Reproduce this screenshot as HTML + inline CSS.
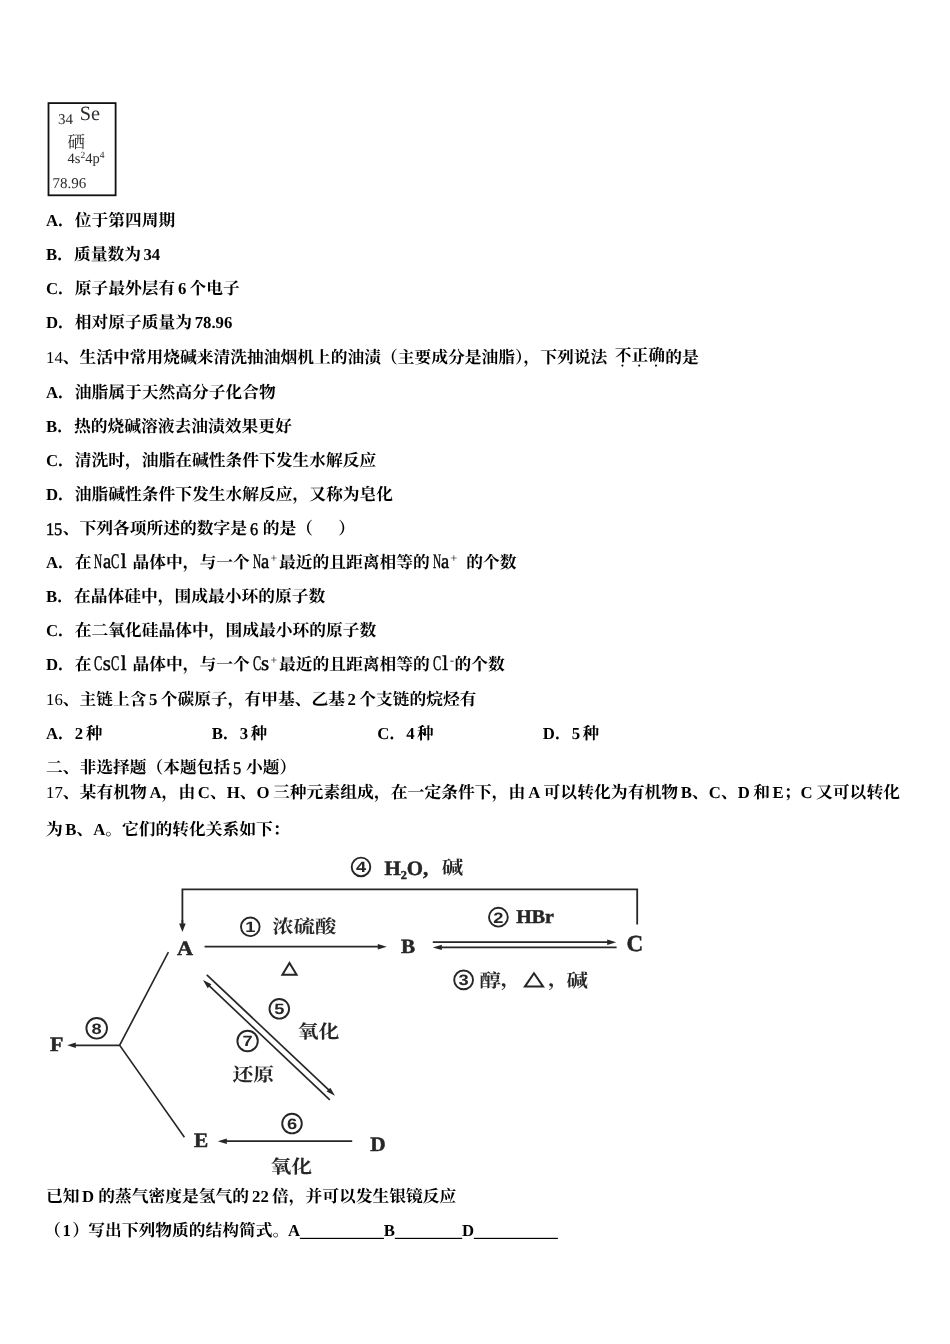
<!DOCTYPE html>
<html lang="zh-CN"><head><meta charset="utf-8"><title>化学试题</title><style>
html,body{margin:0;padding:0;background:#fff}
body{width:950px;height:1344px;position:relative;overflow:hidden;font-family:"Liberation Serif",serif;color:#000;font-kerning:none;text-rendering:geometricPrecision}
.ln{will-change:transform;position:absolute;left:45.70px;height:22px;line-height:22px;font-size:16.757px;white-space:nowrap;width:900px}
.ln span{position:absolute;top:0;white-space:pre}
.b{font-weight:bold}
.r{font-weight:normal}
.m{font-weight:normal;-webkit-text-stroke:0.45px #000;transform-origin:0 0}
.c{height:22px;font-family:"Liberation Serif","Noto Serif CJK SC",serif;font-weight:bold}
.g{position:absolute;left:0;top:-1.78px;overflow:visible;fill:#000;stroke:#000;stroke-width:28;stroke-linejoin:round}
.p{position:absolute;left:0;top:0;overflow:visible}
.sr{position:absolute;left:0;top:0;width:1px;height:1px;overflow:hidden;clip-path:inset(50%);font-size:1px;color:transparent}
.fig{position:absolute;overflow:visible}
</style></head><body>
<svg class="fig" style="left:0;top:0;filter:blur(0.3px)" width="950" height="210" viewBox="0 0 950 210" font-family="'Liberation Serif',serif" fill="#2a2a30" role="img" aria-label="34 Se 硒 4s2 4p4 78.96"><rect x="48.5" y="103.1" width="67.1" height="92.2" fill="none" stroke="#111" stroke-width="1.8"/><text x="57.9" y="123.8" font-size="15">34</text><text x="79.8" y="120.3" font-size="20.3">Se</text><text x="67.6" y="148.3" font-size="17.4" font-family="'Liberation Serif','Noto Serif CJK SC',serif">硒</text><text x="67.6" y="163.3" font-size="14.5">4s<tspan dy="-5.2" font-size="9.5">2</tspan><tspan dy="5.2">4p</tspan><tspan dy="-5.2" font-size="9.5">4</tspan></text><text x="52.4" y="187.9" font-size="15">78.96</text></svg>
<div class="ln" style="top:209.64px"><span class="b" style="left:0.00px">A</span><span class="c" style="left:12.10px;width:117.30px">．位于第四周期</span></div>
<div class="ln" style="top:243.74px"><span class="b" style="left:0.00px">B</span><span class="c" style="left:11.18px;width:83.79px">．质量数为</span><span class="b" style="left:97.46px">34</span></div>
<div class="ln" style="top:277.94px"><span class="b" style="left:0.00px">C</span><span class="c" style="left:12.10px;width:117.30px">．原子最外层有</span><span class="b" style="left:131.90px">6</span><span class="c" style="left:143.58px;width:50.27px">个电子</span></div>
<div class="ln" style="top:312.14px"><span class="b" style="left:0.00px">D</span><span class="c" style="left:12.10px;width:134.06px">．相对原子质量为</span><span class="b" style="left:148.66px">78.96</span></div>
<div class="ln" style="top:347.04px"><span class="r" style="left:0.00px">14</span><span class="c" style="left:16.76px;width:552.98px">、生活中常用烧碱来清洗抽油烟机上的油渍（主要成分是油脂），下列说法</span><span class="c" style="left:568.74px;top:-2.3px;width:50.27px">不正确</span><span class="c" style="left:568.74px;width:50.27px"><svg class="g" width="50.27" height="30" viewBox="0 -1100 3000 1790.3"><circle cx="445" cy="130" r="62" stroke="none"/><circle cx="1445" cy="130" r="62" stroke="none"/><circle cx="2445" cy="130" r="62" stroke="none"/></svg></span><span class="c" style="left:619.31px;width:33.51px">的是</span></div>
<div class="ln" style="top:381.84px"><span class="b" style="left:0.00px">A</span><span class="c" style="left:12.10px;width:217.84px">．油脂属于天然高分子化合物</span></div>
<div class="ln" style="top:415.94px"><span class="b" style="left:0.00px">B</span><span class="c" style="left:11.18px;width:234.60px">．热的烧碱溶液去油渍效果更好</span></div>
<div class="ln" style="top:450.04px"><span class="b" style="left:0.00px">C</span><span class="c" style="left:12.10px;width:318.38px">．清洗时，油脂在碱性条件下发生水解反应</span></div>
<div class="ln" style="top:484.14px"><span class="b" style="left:0.00px">D</span><span class="c" style="left:12.10px;width:335.14px">．油脂碱性条件下发生水解反应，又称为皂化</span></div>
<div class="ln" style="top:518.24px"><span class="m" style="left:0.10px;top:-0.35px;font-size:17.8px;transform:scaleX(0.919)">1</span><span class="m" style="left:8.48px;top:-0.35px;font-size:17.8px;transform:scaleX(0.919)">5</span><span class="c" style="left:16.76px;width:184.33px">、下列各项所述的数字是</span><span class="m" style="left:203.88px;top:-0.35px;font-size:17.8px;transform:scaleX(0.919)">6</span><span class="c" style="left:216.86px;width:50.27px">的是（</span><span class="c" style="left:292.23px;width:16.76px">）</span></div>
<div class="ln" style="top:552.14px"><span class="b" style="left:0.00px">A</span><span class="c" style="left:12.10px;width:33.51px">．在</span><span class="m" style="left:48.42px;top:-1.36px;font-size:20.8px;transform:scaleX(0.544)">N</span><span class="m" style="left:56.79px;top:-1.36px;font-size:20.8px;transform:scaleX(0.886)">a</span><span class="m" style="left:65.17px;top:-1.36px;font-size:20.8px;transform:scaleX(0.590)">C</span><span class="m" style="left:74.75px;top:-1.36px;font-size:20.8px;transform:scaleX(1.000)">l</span><span class="c" style="left:86.53px;width:117.30px">晶体中，与一个</span><span class="m" style="left:206.63px;top:-1.36px;font-size:20.8px;transform:scaleX(0.544)">N</span><span class="m" style="left:215.01px;top:-1.36px;font-size:20.8px;transform:scaleX(0.886)">a</span><span class="c" style="left:224.5px;top:-5px;width:9.70px;font-size:12px;font-weight:normal">+</span><span class="c" style="left:232.99px;width:150.81px">最近的且距离相等的</span><span class="m" style="left:386.60px;top:-1.36px;font-size:20.8px;transform:scaleX(0.544)">N</span><span class="m" style="left:394.98px;top:-1.36px;font-size:20.8px;transform:scaleX(0.886)">a</span><span class="c" style="left:404.5px;top:-5px;width:9.70px;font-size:12px;font-weight:normal">+</span><span class="c" style="left:420.36px;width:50.27px">的个数</span></div>
<div class="ln" style="top:585.94px"><span class="b" style="left:0.00px">B</span><span class="c" style="left:11.18px;width:268.11px">．在晶体硅中，围成最小环的原子数</span></div>
<div class="ln" style="top:620.04px"><span class="b" style="left:0.00px">C</span><span class="c" style="left:12.10px;width:318.38px">．在二氧化硅晶体中，围成最小环的原子数</span></div>
<div class="ln" style="top:654.24px"><span class="b" style="left:0.00px">D</span><span class="c" style="left:12.10px;width:33.51px">．在</span><span class="m" style="left:48.42px;top:-1.36px;font-size:20.8px;transform:scaleX(0.590)">C</span><span class="m" style="left:56.84px;top:-1.36px;font-size:20.8px;transform:scaleX(1.000)">s</span><span class="m" style="left:65.17px;top:-1.36px;font-size:20.8px;transform:scaleX(0.590)">C</span><span class="m" style="left:74.75px;top:-1.36px;font-size:20.8px;transform:scaleX(1.000)">l</span><span class="c" style="left:86.53px;width:117.30px">晶体中，与一个</span><span class="m" style="left:206.63px;top:-1.36px;font-size:20.8px;transform:scaleX(0.590)">C</span><span class="m" style="left:215.05px;top:-1.36px;font-size:20.8px;transform:scaleX(1.000)">s</span><span class="c" style="left:224.5px;top:-5px;width:9.70px;font-size:12px;font-weight:normal">+</span><span class="c" style="left:232.99px;width:150.81px">最近的且距离相等的</span><span class="m" style="left:386.60px;top:-1.36px;font-size:20.8px;transform:scaleX(0.590)">C</span><span class="m" style="left:396.18px;top:-1.36px;font-size:20.8px;transform:scaleX(1.000)">l</span><span class="c" style="left:404px;top:-5px;width:5.30px;font-size:12px;font-weight:normal">-</span><span class="c" style="left:408.56px;width:50.27px">的个数</span></div>
<div class="ln" style="top:688.54px"><span class="r" style="left:0.00px">16</span><span class="c" style="left:16.76px;width:83.79px">、主链上含</span><span class="b" style="left:103.04px">5</span><span class="c" style="left:114.72px;width:184.33px">个碳原子，有甲基、乙基</span><span class="b" style="left:301.55px">2</span><span class="c" style="left:313.23px;width:117.30px">个支链的烷烃有</span></div>
<div class="ln" style="top:722.64px"><span class="b" style="left:0.00px">A</span><span class="c" style="left:12.10px;width:16.76px">．</span><span class="b" style="left:28.86px">2</span><span class="c" style="left:39.64px;width:16.76px">种</span><span class="b" style="left:165.80px">B</span><span class="c" style="left:176.98px;width:16.76px">．</span><span class="b" style="left:193.73px">3</span><span class="c" style="left:204.51px;width:16.76px">种</span><span class="b" style="left:331.30px">C</span><span class="c" style="left:343.40px;width:16.76px">．</span><span class="b" style="left:360.16px">4</span><span class="c" style="left:370.94px;width:16.76px">种</span><span class="b" style="left:496.80px">D</span><span class="c" style="left:508.90px;width:16.76px">．</span><span class="b" style="left:525.66px">5</span><span class="c" style="left:536.44px;width:16.76px">种</span></div>
<div class="ln" style="top:757.14px"><span class="c" style="left:0.00px;width:184.33px">二、非选择题（本题包括</span><span class="m" style="left:187.13px;top:-0.35px;font-size:17.8px;transform:scaleX(0.919)">5</span><span class="c" style="left:200.11px;width:50.27px">小题）</span></div>
<div class="ln" style="top:781.54px"><span class="r" style="left:0.00px">17</span><span class="c" style="left:16.76px;width:84.24px;font-size:16.847px">、某有机物</span><span class="b" style="left:103.49px">A</span><span class="c" style="left:115.59px;width:33.69px;font-size:16.847px">，由</span><span class="b" style="left:151.79px">C</span><span class="c" style="left:163.89px;width:16.85px;font-size:16.847px">、</span><span class="b" style="left:180.74px">H</span><span class="c" style="left:193.77px;width:16.85px;font-size:16.847px">、</span><span class="b" style="left:210.62px">O</span><span class="c" style="left:226.95px;width:252.71px;font-size:16.847px">三种元素组成，在一定条件下，由</span><span class="b" style="left:482.16px">A</span><span class="c" style="left:497.56px;width:134.78px;font-size:16.847px">可以转化为有机物</span><span class="b" style="left:634.83px">B</span><span class="c" style="left:646.01px;width:16.85px;font-size:16.847px">、</span><span class="b" style="left:662.86px">C</span><span class="c" style="left:674.96px;width:16.85px;font-size:16.847px">、</span><span class="b" style="left:691.81px">D</span><span class="c" style="left:707.21px;width:16.85px;font-size:16.847px">和</span><span class="b" style="left:726.55px">E</span><span class="c" style="left:737.73px;width:16.85px;font-size:16.847px">；</span><span class="b" style="left:754.58px">C</span><span class="c" style="left:769.98px;width:84.24px;font-size:16.847px">又可以转化</span></div>
<div class="ln" style="top:819.14px"><span class="c" style="left:0.00px;width:16.76px">为</span><span class="b" style="left:19.26px">B</span><span class="c" style="left:30.43px;width:16.76px">、</span><span class="b" style="left:47.19px">A</span><span class="c" style="left:59.29px;width:184.33px">。它们的转化关系如下：</span></div>
<div class="ln" style="top:1185.74px"><span class="c" style="left:0.00px;width:33.51px">已知</span><span class="b" style="left:36.01px">D</span><span class="c" style="left:52.22px;width:150.81px">的蒸气密度是氢气的</span><span class="b" style="left:206.03px">22</span><span class="c" style="left:226.09px;width:184.33px">倍，并可以发生银镜反应</span></div>
<div class="ln" style="top:1220.24px"><span class="c" style="left:-1.70px;width:16.76px">（</span><span class="b" style="left:16.56px">1</span><span class="c" style="left:26.34px;width:16.76px">）</span><span class="c" style="left:42.29px;width:201.08px">写出下列物质的结构简式。</span><span class="b" style="left:241.88px">A</span><span class="c" style="left:253.98px;width:83.79px"><svg class="p" width="83.79" height="22"><rect x="-0.13" y="17.81" width="84.05" height="1.18"/></svg><span class="sr">__________</span></span><span class="b" style="left:337.76px">B</span><span class="c" style="left:348.94px;width:67.03px"><svg class="p" width="67.03" height="22"><rect x="-0.13" y="17.81" width="67.29" height="1.18"/></svg><span class="sr">________</span></span><span class="b" style="left:415.97px">D</span><span class="c" style="left:428.07px;width:83.79px"><svg class="p" width="83.79" height="22"><rect x="-0.13" y="17.81" width="84.05" height="1.18"/></svg><span class="sr">__________</span></span></div>
<svg class="fig" style="left:0;top:840px;filter:blur(0.45px)" width="950" height="350" viewBox="0 840 950 350" fill="#262626" role="img" aria-label="有机物转化关系图"><title>A、B、C、D、E、F 转化关系：①浓硫酸△ ②HBr ③醇，△，碱 ④H2O，碱 ⑤氧化 ⑥氧化 ⑦还原 ⑧</title><g fill="none" stroke="#262626" stroke-width="1.8" stroke-linecap="butt"><path d="M637.2 924.6V889.4H182.4V925"/><path d="M168.4 952.2L119.6 1045.3L184.4 1137.2" stroke-width="1.6"/></g><g fill="none" stroke="#262626" stroke-width="1.7"><path d="M182.40 920.00L182.40 926.84"/><path d="M182.40 932.00L179.10 923.40L185.70 923.40z" fill="#262626" stroke="none"/><path d="M204.60 946.70L381.40 946.70"/><path d="M386.80 946.70L377.80 949.50L377.80 943.90z" fill="#262626" stroke="none"/><path d="M432.80 942.20L610.80 942.20"/><path d="M616.20 942.20L607.20 944.90L607.20 939.50z" fill="#262626" stroke="none"/><path d="M616.60 947.40L438.20 947.40"/><path d="M432.80 947.40L441.80 944.70L441.80 950.10z" fill="#262626" stroke="none"/><path d="M119.60 1045.30L72.36 1045.30"/><path d="M67.20 1045.30L75.80 1042.60L75.80 1048.00z" fill="#262626" stroke="none"/><path d="M206.80 974.80L331.07 1092.09"/><path d="M335.00 1095.80L326.60 1091.59L330.31 1087.66z" fill="#262626" stroke="none"/><path d="M329.80 1099.80L206.93 983.71"/><path d="M203.00 980.00L211.40 984.22L207.69 988.14z" fill="#262626" stroke="none"/><path d="M352.20 1141.20L223.20 1141.20"/><path d="M217.80 1141.20L226.80 1138.40L226.80 1144.00z" fill="#262626" stroke="none"/><path d="M289.50 963.00L296.60 974.80L282.40 974.80z" fill="none" stroke-width="2.0"/><path d="M534.00 973.20L543.10 986.60L524.90 986.60z" fill="none" stroke-width="2.0"/></g><g fill="none" stroke="#262626" stroke-width="1.9"><circle cx="250.3" cy="926.8" r="9.3"/><circle cx="498.4" cy="917.2" r="9.4"/><circle cx="463.6" cy="979.9" r="9.4"/><circle cx="361.0" cy="866.9" r="9.3"/><circle cx="279.3" cy="1008.8" r="9.8"/><circle cx="292.0" cy="1123.6" r="9.8"/><circle cx="247.6" cy="1041.0" r="10.2"/><circle cx="96.7" cy="1028.3" r="10.3"/></g><text transform="translate(250.3,932.2) scale(1.22,1)" font-size="15.0" text-anchor="middle" font-family="'Liberation Sans',sans-serif" font-weight="bold">1</text><text transform="translate(498.4,922.6) scale(1.22,1)" font-size="15.0" text-anchor="middle" font-family="'Liberation Sans',sans-serif" font-weight="bold">2</text><text transform="translate(463.6,985.3) scale(1.22,1)" font-size="15.0" text-anchor="middle" font-family="'Liberation Sans',sans-serif" font-weight="bold">3</text><text transform="translate(361.0,872.3) scale(1.22,1)" font-size="15.0" text-anchor="middle" font-family="'Liberation Sans',sans-serif" font-weight="bold">4</text><text transform="translate(279.3,1014.2) scale(1.22,1)" font-size="15.0" text-anchor="middle" font-family="'Liberation Sans',sans-serif" font-weight="bold">5</text><text transform="translate(292.0,1129.0) scale(1.22,1)" font-size="15.0" text-anchor="middle" font-family="'Liberation Sans',sans-serif" font-weight="bold">6</text><text transform="translate(247.6,1046.4) scale(1.22,1)" font-size="15.0" text-anchor="middle" font-family="'Liberation Sans',sans-serif" font-weight="bold">7</text><text transform="translate(96.7,1033.7) scale(1.22,1)" font-size="15.0" text-anchor="middle" font-family="'Liberation Sans',sans-serif" font-weight="bold">8</text><text transform="translate(177.00,955.00) scale(1.080,1)" font-size="20.6" stroke="#262626" stroke-width="0.5" font-family="'Liberation Serif',serif" font-weight="bold">A</text><text transform="translate(400.90,952.90) scale(1.040,1)" font-size="20.3" stroke="#262626" stroke-width="0.5" font-family="'Liberation Serif',serif" font-weight="bold">B</text><text transform="translate(626.60,951.20) scale(1.000,1)" font-size="23.0" stroke="#262626" stroke-width="0.5" font-family="'Liberation Serif',serif" font-weight="bold">C</text><text transform="translate(516.20,923.20) scale(1.020,1)" font-size="19.6" stroke="#262626" stroke-width="0.5" font-family="'Liberation Serif',serif" font-weight="bold">HBr</text><text transform="translate(384.40,874.60) scale(1.020,1)" font-size="20.5" stroke="#262626" stroke-width="0.5" font-family="'Liberation Serif',serif" font-weight="bold">H<tspan dy="4.5" font-size="12">2</tspan><tspan dy="-4.5">O,</tspan></text><text transform="translate(50.00,1051.40) scale(1.060,1)" font-size="20.6" stroke="#262626" stroke-width="0.5" font-family="'Liberation Serif',serif" font-weight="bold">F</text><text transform="translate(194.00,1147.20) scale(1.040,1)" font-size="20.5" stroke="#262626" stroke-width="0.5" font-family="'Liberation Serif',serif" font-weight="bold">E</text><text transform="translate(370.20,1150.60) scale(1.040,1)" font-size="20.5" stroke="#262626" stroke-width="0.5" font-family="'Liberation Serif',serif" font-weight="bold">D</text><g font-family="'Liberation Serif','Noto Serif CJK SC',serif" font-weight="bold" font-size="18.6" fill="#262626"><text transform="translate(272.20,933.20) scale(1.1505,1)">浓硫酸</text><text transform="translate(441.80,873.80) scale(1.1505,1)">碱</text><text transform="translate(479.60,986.60) scale(1.1505,1)">醇</text><text transform="translate(500.60,986.00) scale(1.1505,1)">，</text><text transform="translate(548.00,986.00) scale(1.1505,1)">，</text><text transform="translate(566.60,986.60) scale(1.1505,1)">碱</text><text transform="translate(297.80,1037.80) scale(1.1183,1)">氧化</text><text transform="translate(232.40,1080.60) scale(1.1183,1)">还原</text><text transform="translate(270.40,1172.80) scale(1.1183,1)">氧化</text></g></svg>
</body></html>
